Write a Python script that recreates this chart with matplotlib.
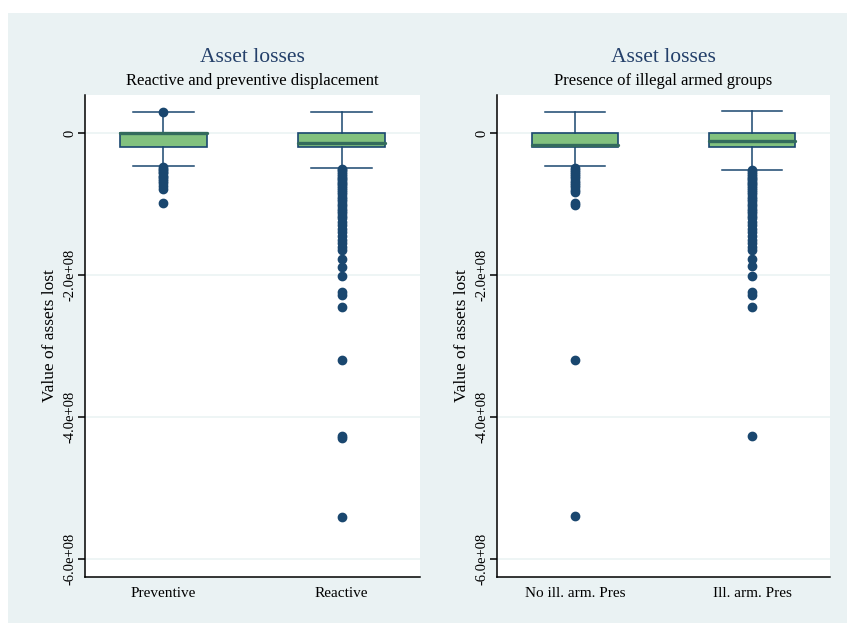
import matplotlib
matplotlib.use('Agg')
import matplotlib.pyplot as plt
from matplotlib.patches import Rectangle

plt.rcParams['font.family'] = ['Liberation Serif', 'DejaVu Serif']

# ─────────────────────────────────────────
# DATOS (valores en unidades de 1e8)
# ─────────────────────────────────────────
SCALE = 1e8

cat_disp = ['Preventive', 'Reactive']
q1_disp = [-0.20, -0.20]
med_disp = [0.0, -0.145]
q3_disp = [0.0, 0.0]
wlo_disp = [-0.465, -0.49]
whi_disp = [0.29, 0.30]
out_prev = [0.30, -0.48, -0.50, -0.52, -0.55, -0.57, -0.60, -0.62, -0.65,
            -0.68, -0.70, -0.74, -0.79, -0.99]
out_reac = [-0.50, -0.52, -0.55, -0.58, -0.60, -0.63, -0.65, -0.68, -0.70,
            -0.72, -0.75, -0.78, -0.80, -0.83, -0.86, -0.90, -0.93, -0.96,
            -1.00, -1.03, -1.07, -1.10, -1.13, -1.17, -1.20, -1.25, -1.30,
            -1.35, -1.40, -1.45, -1.50, -1.55, -1.60, -1.65, -1.77, -1.89,
            -2.01, -2.24, -2.28, -2.45, -3.20, -4.26, -4.30, -5.41]

cat_arm = ['No ill. arm. Pres', 'Ill. arm. Pres']
q1_arm = [-0.20, -0.20]
med_arm = [-0.17, -0.11]
q3_arm = [0.0, 0.0]
wlo_arm = [-0.465, -0.52]
whi_arm = [0.29, 0.31]
out_noarm = [-0.49, -0.52, -0.55, -0.58, -0.61, -0.64, -0.67, -0.70, -0.73,
             -0.76, -0.80, -0.83, -0.98, -1.01, -3.20, -5.39]
out_arm = [-0.52, -0.55, -0.58, -0.60, -0.63, -0.65, -0.68, -0.70, -0.72,
           -0.75, -0.78, -0.80, -0.83, -0.86, -0.90, -0.93, -0.96, -1.00,
           -1.03, -1.07, -1.10, -1.13, -1.17, -1.20, -1.25, -1.30, -1.35,
           -1.40, -1.45, -1.50, -1.55, -1.60, -1.65, -1.77, -1.87, -2.01,
           -2.24, -2.28, -2.45, -4.27]

yticks = [0, -2e8, -4e8, -6e8]
ytick_labels = ['0', '-2.0e+08', '-4.0e+08', '-6.0e+08']

# ─────────────────────────────────────────
# ESTILO
# ─────────────────────────────────────────
BG = '#EAF2F3'
NAVY = '#1A476F'
TITULO = '#24406A'
VERDE = '#82C17E'
MEDIANA = '#336B5C'
W, H = 847, 623

fig = plt.figure(figsize=(W / 100, H / 100), dpi=100)
fig.patch.set_facecolor('white')
fig.patches.append(Rectangle((8 / W, 0), 1, 1 - 13 / H, transform=fig.transFigure,
                             facecolor=BG, edgecolor='none', zorder=-10))


def stats_de(cats, q1, med, q3, wlo, whi, outs):
    st = []
    for i in range(len(cats)):
        st.append(dict(q1=q1[i] * SCALE, med=med[i] * SCALE, q3=q3[i] * SCALE,
                       whislo=wlo[i] * SCALE, whishi=whi[i] * SCALE,
                       fliers=[v * SCALE for v in outs[i]], label=cats[i]))
    return st


def panel(rect, stats, subtitulo):
    ax = fig.add_axes(rect)
    ax.set_facecolor('white')
    ax.bxp(stats, positions=[1, 2], widths=0.49, patch_artist=True,
           boxprops=dict(facecolor=VERDE, edgecolor=NAVY, linewidth=1.2),
           medianprops=dict(color=MEDIANA, linewidth=2.4, solid_capstyle='round'),
           whiskerprops=dict(color=NAVY, linewidth=1.1),
           capprops=dict(color=NAVY, linewidth=1.1),
           capwidths=0.34,
           flierprops=dict(marker='o', markerfacecolor=NAVY, markeredgecolor=NAVY,
                           markersize=6, linestyle='none'))
    ax.set_xlim(0.56, 2.44)
    ax.set_ylim(-6.25e8, 0.535e8)
    ax.set_yticks(yticks)
    ax.set_yticklabels(ytick_labels, rotation=90, va='center')
    ax.tick_params(axis='y', length=5, width=1.1, labelsize=10.5, pad=1, color='black')
    ax.tick_params(axis='x', length=0, labelsize=11, pad=7)
    ax.grid(axis='y', color=BG, linewidth=1.1)
    ax.set_axisbelow(True)
    ax.spines[['top', 'right']].set_visible(False)
    ax.spines[['bottom', 'left']].set_linewidth(1.1)
    ax.set_ylabel('Value of assets lost', fontsize=12.5, labelpad=4)
    x0, w = rect[0], rect[2]
    fig.text(x0 + w / 2, 1 - 57 / H, 'Asset losses', ha='center', va='center',
             fontsize=15.5, color=TITULO)
    fig.text(x0 + w / 2, 1 - 81 / H, subtitulo, ha='center', va='center',
             fontsize=12, color='black')
    return ax


bottom = (H - 577) / H
height = (577 - 95) / H
panel([85 / W, bottom, 335 / W, height],
      stats_de(cat_disp, q1_disp, med_disp, q3_disp, wlo_disp, whi_disp,
               [out_prev, out_reac]),
      'Reactive and preventive displacement')
panel([497 / W, bottom, 333 / W, height],
      stats_de(cat_arm, q1_arm, med_arm, q3_arm, wlo_arm, whi_arm,
               [out_noarm, out_arm]),
      'Presence of illegal armed groups')

plt.savefig('out.png', dpi=100, facecolor='white')
plt.close()
